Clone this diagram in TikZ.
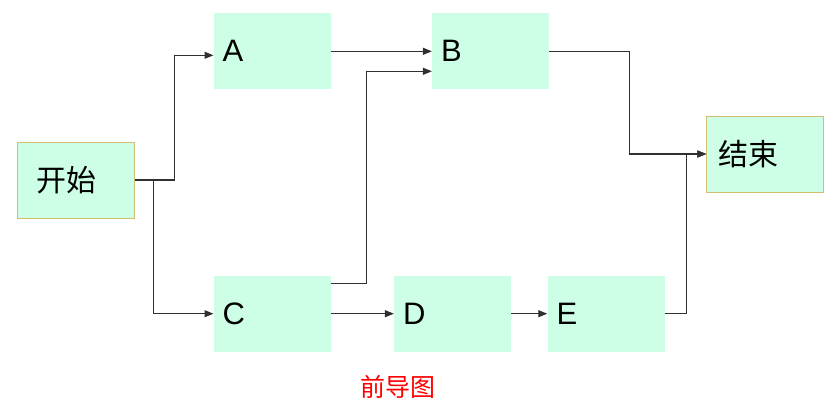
\documentclass[tikz,border=0pt]{standalone}
\usepackage{fontspec}
\setmainfont{Liberation Sans}
\newfontfamily\cjk{Noto Sans CJK SC}
\usetikzlibrary{arrows.meta,positioning}
\definecolor{mint}{HTML}{CCFFE6}
\definecolor{tan}{HTML}{D2BE72}
\definecolor{wire}{HTML}{303030}

\begin{document}
\begin{tikzpicture}[
  x=1pt, y=1pt,
  box/.style={fill=mint, minimum width=117pt, minimum height=76pt,
              text width=99pt, inner xsep=9pt, align=left,
              font=\fontsize{31}{36}\selectfont},
  edge/.style={box, draw=tan, line width=1pt, font=\cjk\fontsize{30}{36}\selectfont},
  arr/.style={-{Triangle[length=9pt,width=7pt]}, line width=1.1pt, wire},
  caption/.style={font=\cjk\fontsize{25}{30}\selectfont, text=red}
]
\useasboundingbox (0,0) rectangle (840,408);

\node[edge] (start) at (75.5,228) {\hspace*{10pt}开始};
\node[box, above right=52pt and 79pt of start] (A) {A};
\node[box, right=101pt of A] (B) {B};
\node[edge, below right=26pt and 157pt of B] (end) {\hspace*{3pt}结束};
\node[box, below=186pt of A] (C) {C};
\node[box, right=63pt of C] (D) {D};
\node[box, right=36pt of D] (E) {E};

\draw[arr] (start.east) -- ++(40pt,0) |- ([yshift=-4pt]A.west);
\draw[arr] (start.east) -- ++(19pt,0) |- (C.west);
\draw[arr] (A.east) -- (B.west);
\draw[arr] ([yshift=30pt]C.east) -- ++(36pt,0) |- ([yshift=-20pt]B.west);
\draw[arr] (C.east) -- (D.west);
\draw[arr] (D.east) -- (E.west);
\draw[arr] (B.east) -- ++(80pt,0) |- (end.west);
\draw[arr] (E.east) -- ++(22pt,0) |- (end.west);

% caption
\node[caption] (title) at (398,21) {前导图};
\end{tikzpicture}
\end{document}
